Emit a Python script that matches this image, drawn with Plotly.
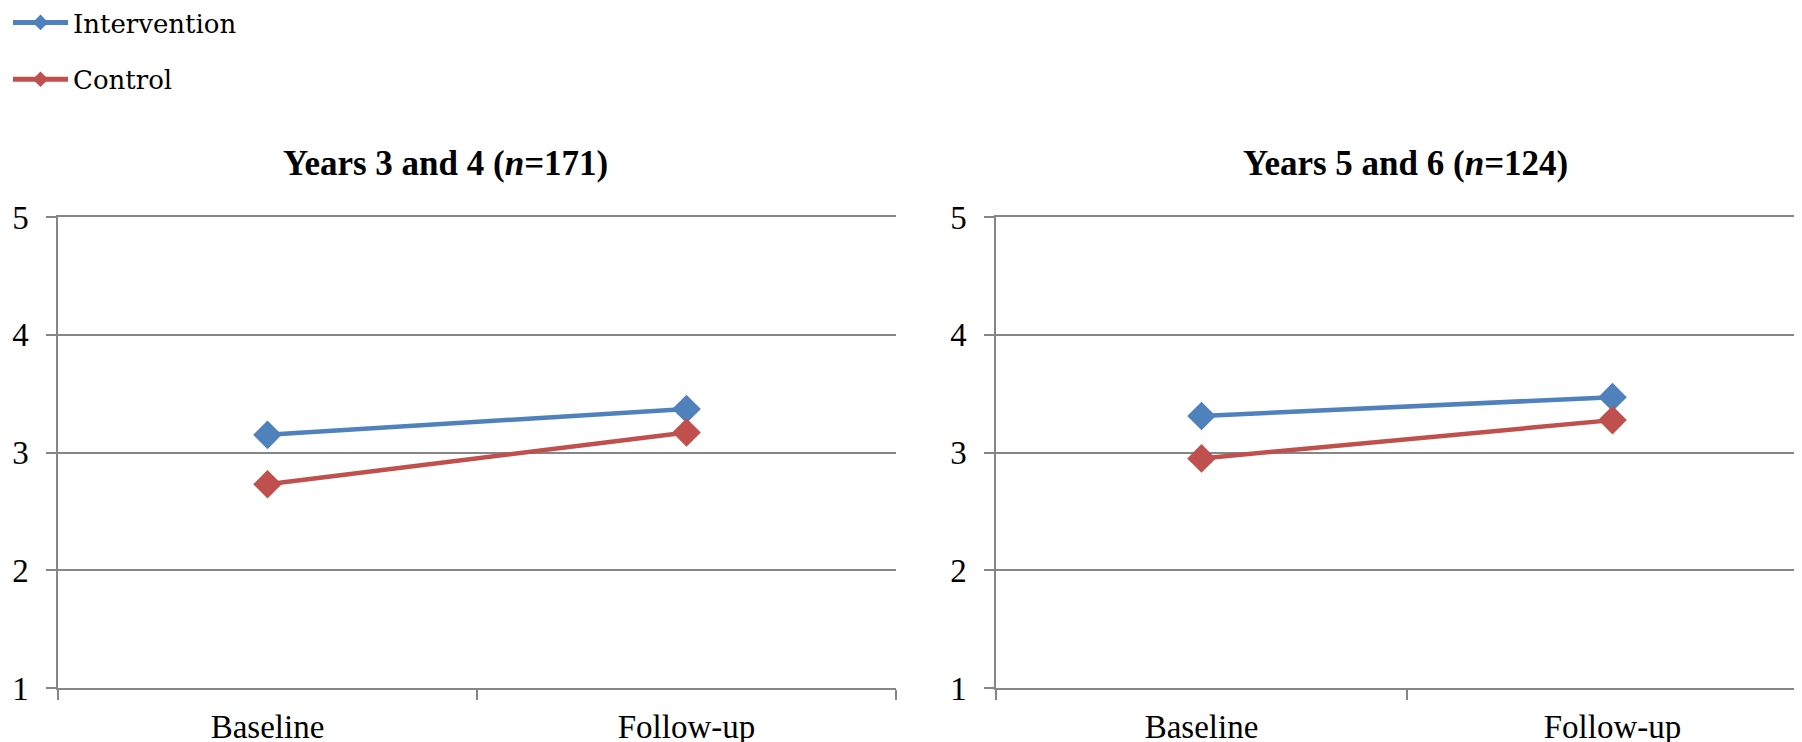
import plotly.graph_objects as go

categories = ["Baseline", "Follow-up"]
panel_titles = ["Years 3 and 4 (<i>n</i>=171)", "Years 5 and 6 (<i>n</i>=124)"]
series_names = ["Intervention", "Control"]
intervention_y34 = [3.15, 3.37]
control_y34 = [2.73, 3.17]
intervention_y56 = [3.31, 3.47]
control_y56 = [2.95, 3.275]
y_ticks = [1, 2, 3, 4, 5]

BLUE = "#4F81BD"
RED = "#C0504D"
GRID = "#868686"
W, H = 1802, 742
OFF = 8  # page body margin offset

def px_x(p):
    return (p - OFF) / W

def px_y(p):
    return (H - (p - OFF)) / H

fig = go.Figure()

panels = [
    ("x", "y", intervention_y34, control_y34, True),
    ("x2", "y2", intervention_y56, control_y56, False),
]
for xa, ya, iv, cv, show in panels:
    for name, vals, col in [(series_names[0], iv, BLUE), (series_names[1], cv, RED)]:
        fig.add_trace(go.Scatter(
            x=categories, y=vals, name=name, xaxis=xa, yaxis=ya,
            mode="lines+markers", legendgroup=name, showlegend=show,
            line=dict(color=col, width=4.5),
            marker=dict(symbol="diamond", size=22, color=col),
        ))

ydom = [px_y(688), px_y(217)]
axis_font = dict(family="Liberation Serif, Times New Roman, serif", size=33, color="#000000")

common_x = dict(
    type="category", showgrid=False, showline=True, linecolor=GRID, linewidth=2,
    mirror=True,
    ticks="outside", tickson="boundaries", ticklen=10, tickcolor=GRID, tickwidth=1.5,
    tickfont=axis_font, zeroline=False, automargin=False, ticklabelstandoff=8,
)
common_y = dict(
    range=[1, 5], tickvals=y_ticks, showgrid=True, gridcolor=GRID, gridwidth=2,
    showline=True, linecolor=GRID, linewidth=1.5, ticks="outside", ticklen=10,
    tickcolor=GRID, tickwidth=1.5, tickfont=axis_font, zeroline=False,
    ticklabelstandoff=11, automargin=False,
)

x1_end = 896
x2_start = 996
cat_w2 = 822  # full width of the right category axis (extends beyond page)
x2_end_px = W + OFF
fig.update_layout(
    width=W, height=H,
    margin=dict(l=0, r=0, t=0, b=0, autoexpand=False),
    paper_bgcolor="white", plot_bgcolor="white",
    xaxis=dict(domain=[px_x(58), px_x(x1_end)], range=[-0.5, 1.5], anchor="y", **common_x),
    yaxis=dict(domain=ydom, anchor="x", **common_y),
    xaxis2=dict(domain=[px_x(x2_start), 1.0], range=[-0.5, -0.5 + 2 * (x2_end_px - x2_start) / cat_w2],
                anchor="y2", **common_x),
    yaxis2=dict(domain=ydom, anchor="x2", **common_y),
    showlegend=True,
    legend=dict(
        x=0.0, y=1.0 + 9 / H, xanchor="left", yanchor="top", xref="paper", yref="paper",
        font=dict(family="DejaVu Serif, serif", size=26, color="#000000"),
        itemsizing="constant", itemwidth=55, tracegroupgap=20,
        bgcolor="rgba(0,0,0,0)",
    ),
    annotations=[
        dict(text="<b>" + panel_titles[0] + "</b>", x=px_x(445), y=px_y(163), xref="paper", yref="paper",
             showarrow=False, xanchor="center", yanchor="middle",
             font=dict(family="Liberation Serif, serif", size=35, color="#000000")),
        dict(text="<b>" + panel_titles[1] + "</b>", x=px_x(1405), y=px_y(163), xref="paper", yref="paper",
             showarrow=False, xanchor="center", yanchor="middle",
             font=dict(family="Liberation Serif, serif", size=35, color="#000000")),
    ],
)

fig.write_html("out.html")
